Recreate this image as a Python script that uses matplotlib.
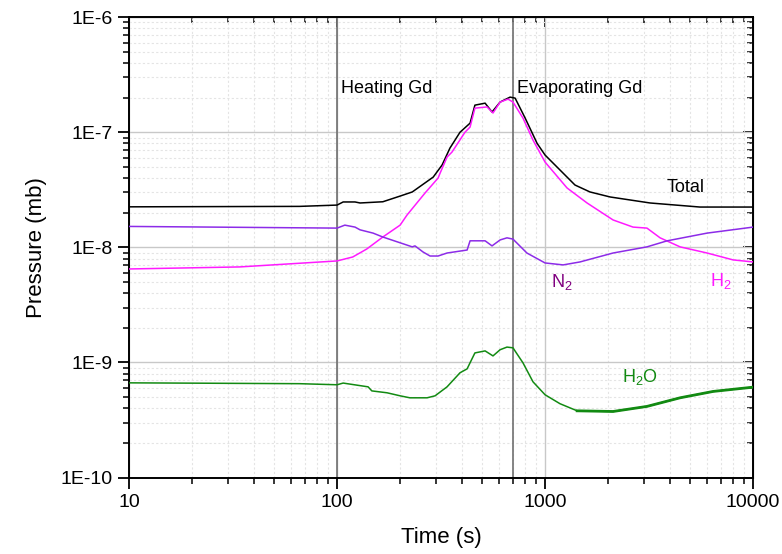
import numpy as np
import matplotlib.pyplot as plt
from matplotlib.ticker import FuncFormatter, LogLocator, NullFormatter

plt.rcParams['font.family'] = ['Liberation Sans', 'DejaVu Sans']
plt.rcParams['mathtext.default'] = 'regular'

total_t = [10, 66, 100, 107, 122, 129, 166, 201, 230, 290, 320, 349, 390, 436, 460, 515, 556, 608, 679, 718,
           802, 916, 1000, 1393, 1644, 2056, 3199, 5559, 10000]
total_p = [2.25e-8, 2.27e-8, 2.33e-8, 2.48e-8, 2.48e-8, 2.43e-8, 2.49e-8, 2.79e-8, 3.03e-8, 4.08e-8, 5.2e-8,
           7.29e-8, 1.0e-7, 1.2e-7, 1.72e-7, 1.79e-7, 1.5e-7, 1.83e-7, 2.02e-7, 1.98e-7,
           1.33e-7, 8.0e-8, 6.34e-8, 3.48e-8, 3.03e-8, 2.74e-8, 2.43e-8, 2.24e-8, 2.24e-8]

h2_t = [10, 34, 100, 119, 139, 166, 201, 217, 265, 306, 313, 338, 357, 412, 436, 460, 526, 562, 608, 664, 701,
        783, 875, 1000, 1276, 1592, 2123, 2649, 3090, 3573, 4457, 6012, 8017, 10000]
h2_p = [6.49e-9, 6.76e-9, 7.62e-9, 8.25e-9, 9.68e-9, 1.23e-8, 1.56e-8, 1.91e-8, 2.97e-8, 4.0e-8, 4.42e-8,
        6.09e-8, 6.73e-8, 1.0e-7, 1.11e-7, 1.62e-7, 1.66e-7, 1.47e-7, 1.83e-7, 1.94e-7, 1.83e-7,
        1.33e-7, 8.55e-8, 5.51e-8, 3.28e-8, 2.43e-8, 1.73e-8, 1.5e-8, 1.47e-8, 1.21e-8, 1.01e-8, 8.93e-9,
        7.78e-9, 7.47e-9]

n2_t = [10, 100, 109, 122, 129, 149, 166, 230, 237, 259, 280, 306, 338, 422, 436, 515, 556, 608, 656, 701,
        818, 1000, 1222, 1472, 2123, 3090, 3864, 6012, 10000]
n2_p = [1.52e-8, 1.47e-8, 1.56e-8, 1.5e-8, 1.42e-8, 1.33e-8, 1.23e-8, 1.01e-8, 1.03e-8, 9.12e-9, 8.41e-9,
        8.41e-9, 8.93e-9, 9.48e-9, 1.14e-8, 1.14e-8, 1.03e-8, 1.16e-8, 1.21e-8, 1.18e-8,
        8.93e-9, 7.32e-9, 7.04e-9, 7.47e-9, 8.93e-9, 1.01e-8, 1.14e-8, 1.33e-8, 1.5e-8]

h2o_t = [10, 66, 100, 107, 141, 147, 174, 201, 224, 271, 296, 338, 390, 422, 436, 460, 515, 562, 608, 656,
         701, 783, 875, 1000, 1180, 1426, 2123, 3090, 4457, 6427, 10000]
h2o_p = [6.65e-10, 6.54e-10, 6.4e-10, 6.62e-10, 6.14e-10, 5.66e-10, 5.45e-10, 5.13e-10, 4.93e-10, 4.93e-10,
         5.13e-10, 6.14e-10, 8.13e-10, 8.8e-10, 9.93e-10, 1.21e-9, 1.26e-9, 1.14e-9, 1.29e-9, 1.36e-9,
         1.34e-9, 9.93e-10, 6.79e-10, 5.24e-10, 4.38e-10, 3.8e-10, 3.75e-10, 4.15e-10, 4.93e-10, 5.6e-10,
         6.1e-10]

events = [100, 700]

fig = plt.figure(figsize=(7.82, 5.54), dpi=100)
ax = fig.add_axes([0.165, 0.138, 0.798, 0.831])

ax.grid(True, which='major', color='#c8c8c8', lw=1.0)
ax.grid(True, which='minor', color='#e4e4e4', lw=0.8, ls=(0, (2, 2)))
ax.set_axisbelow(True)

for t in events:
    ax.axvline(t, color='#707070', lw=1.2, zorder=1)

ax.plot(total_t, total_p, color='black', lw=1.1, zorder=3)
ax.plot(h2_t, h2_p, color='#ff1aff', lw=1.1, zorder=3)
ax.plot(n2_t, n2_p, color='#8c2be8', lw=1.1, zorder=3)
ax.plot(h2o_t, h2o_p, color='#128a12', lw=1.1, zorder=3)
tail = [i for i, t in enumerate(h2o_t) if t >= 1426]
ax.plot([h2o_t[i] for i in tail], [h2o_p[i] for i in tail], color='#128a12', lw=2.0, zorder=3)

ax.set_xscale('log')
ax.set_yscale('log')
ax.set_xlim(10, 10000)
ax.set_ylim(1e-10, 1e-6)

minor = LogLocator(base=10, subs=np.arange(2, 10))
ax.yaxis.set_major_formatter(FuncFormatter(lambda v, p: '1E%d' % round(np.log10(v))))
ax.xaxis.set_major_formatter(FuncFormatter(lambda v, p: '%d' % round(v)))
ax.xaxis.set_minor_locator(minor)
ax.yaxis.set_minor_locator(LogLocator(base=10, subs=np.arange(2, 10)))
ax.xaxis.set_minor_formatter(NullFormatter())
ax.yaxis.set_minor_formatter(NullFormatter())

ax.tick_params(which='major', direction='out', length=8, width=1.3, labelsize=14)
ax.tick_params(which='minor', direction='out', length=4.5, width=1.1)
for s in ax.spines.values():
    s.set_linewidth(1.4)

# inward ticks on top and right
ident = (lambda v: v, lambda v: v)
top = ax.secondary_xaxis('top', functions=ident)
right = ax.secondary_yaxis('right', functions=ident)
for sec in (top, right):
    sec.tick_params(which='major', direction='in', length=7, width=1.3)
    sec.tick_params(which='minor', direction='in', length=4.5, width=1.1)
top.xaxis.set_minor_locator(LogLocator(base=10, subs=np.arange(2, 10)))
right.yaxis.set_minor_locator(LogLocator(base=10, subs=np.arange(2, 10)))
top.set_xticklabels([])
right.set_yticklabels([])
top.xaxis.set_minor_formatter(NullFormatter())
right.yaxis.set_minor_formatter(NullFormatter())

ax.set_xlabel('Time (s)', fontsize=16, labelpad=12)
ax.set_ylabel('Pressure (mb)', fontsize=16, labelpad=10)

ax.text(104, 2.42e-7, 'Heating Gd', fontsize=13, va='center')
ax.text(733, 2.42e-7, 'Evaporating Gd', fontsize=13, va='center')
ax.text(4764, 3.28e-8, 'Total', fontsize=13, ha='center', va='center')
ax.text(1069, 5.0e-9, r'N$_2$', fontsize=13, va='center', color='#800080')
ax.text(6209, 5.1e-9, r'H$_2$', fontsize=13, va='center', color='#ff1aff')
ax.text(2344, 7.5e-10, r'H$_2$O', fontsize=13, va='center', color='#128a12')

fig.savefig('out.png', dpi=100)
